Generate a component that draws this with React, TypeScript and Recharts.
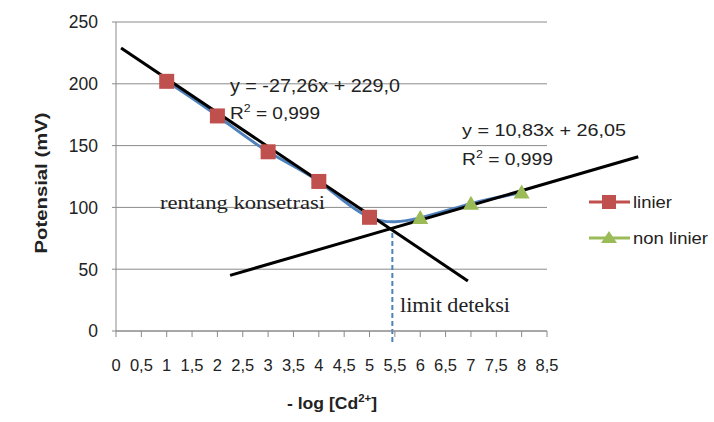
import React from 'react';
import { ComposedChart, Line, XAxis, YAxis, CartesianGrid, ReferenceLine } from 'recharts';

const linierX = [1, 2, 3, 4, 5];
const linierY = [202, 174, 145, 121, 92];
const nonLinierX = [6, 7, 8];
const nonLinierY = [91.5, 103, 112];

const trend1X = [0.1, 6.94];
const trend1Y = [229, 40.5];
const trend2X = [2.25, 10.3];
const trend2Y = [45, 141];

const limitX = 5.45;
const limitY = [-9, 83];

const xTicks = [0, 0.5, 1, 1.5, 2, 2.5, 3, 3.5, 4, 4.5, 5, 5.5, 6, 6.5, 7, 7.5, 8, 8.5];
const xTickLabels = ['0', '0,5', '1', '1,5', '2', '2,5', '3', '3,5', '4', '4,5', '5', '5,5', '6', '6,5', '7', '7,5', '8', '8,5'];
const yTicks = [0, 50, 100, 150, 200, 250];

const RED = '#C0504D';
const GREEN = '#9BBB59';
const BLUE = '#4F81BD';
const FONT = '"Liberation Sans", Arial, sans-serif';
const SERIF = '"Liberation Serif", "Times New Roman", serif';

const data = [
  ...linierX.map((x, i) => ({ x, linier: linierY[i], curve: linierY[i] })),
  ...nonLinierX.map((x, i) => ({ x, nonlinier: nonLinierY[i], curve: nonLinierY[i] })),
];

const Square = (props: any) => {
  const { cx, cy } = props;
  if (cx == null || cy == null || props.value == null) return null;
  return <rect x={cx - 7.5} y={cy - 7.5} width={15} height={15} fill={RED} />;
};

const Triangle = (props: any) => {
  const { cx, cy } = props;
  if (cx == null || cy == null || props.value == null) return null;
  return <polygon points={`${cx},${cy - 8} ${cx + 8},${cy + 6} ${cx - 8},${cy + 6}`} fill={GREEN} />;
};

const XTick = (props: any) => {
  const { x, y, payload } = props;
  const idx = xTicks.indexOf(payload.value);
  return (
    <text x={x} y={y + 32} textAnchor="middle" fontFamily={FONT} fontSize={16.5} fill="#222">
      {xTickLabels[idx]}
    </text>
  );
};

const YTick = (props: any) => {
  const { x, y, payload } = props;
  return (
    <text x={x} y={y} dy="0.36em" textAnchor="end" fontFamily={FONT} fontSize={17.5} fill="#222">
      {payload.value}
    </text>
  );
};

export default function App() {
  return (
    <div style={{ position: 'absolute', left: 0, top: 0, width: 714, height: 422, background: '#fff' }}>
      <ComposedChart width={714} height={422} data={data} margin={{ top: 22, right: 167, bottom: 0, left: 0 }}>
        <CartesianGrid vertical={false} stroke="#8a8a8a" strokeWidth={1} />
        <XAxis
          dataKey="x"
          type="number"
          domain={[0, 8.5]}
          ticks={xTicks}
          interval={0}
          height={91}
          stroke="#8a8a8a"
          tickSize={6}
          tick={<XTick />}
        />
        <YAxis
          type="number"
          domain={[0, 250]}
          ticks={yTicks}
          width={116}
          stroke="#8a8a8a"
          tickSize={4}
          tickMargin={14}
          tick={<YTick />}
        />
        <Line dataKey="curve" type="natural" stroke={BLUE} strokeWidth={3} dot={false} isAnimationActive={false} connectNulls />
        <Line dataKey="linier" stroke="none" dot={<Square />} activeDot={false} isAnimationActive={false} />
        <Line dataKey="nonlinier" stroke="none" dot={<Triangle />} activeDot={false} isAnimationActive={false} />
        <ReferenceLine
          segment={[{ x: limitX, y: limitY[0] }, { x: limitX, y: limitY[1] }]}
          stroke={BLUE}
          strokeWidth={2}
          strokeDasharray="5 3"
          ifOverflow="visible"
        />
        <ReferenceLine
          segment={[{ x: trend1X[0], y: trend1Y[0] }, { x: trend1X[1], y: trend1Y[1] }]}
          stroke="#000"
          strokeWidth={3}
          ifOverflow="visible"
        />
        <ReferenceLine
          segment={[{ x: trend2X[0], y: trend2Y[0] }, { x: trend2X[1], y: trend2Y[1] }]}
          stroke="#000"
          strokeWidth={3}
          ifOverflow="visible"
        />
        <text x={230} y={92} fontFamily={FONT} fontSize={18} fill="#222" textLength={170} lengthAdjust="spacingAndGlyphs">y = -27,26x + 229,0</text>
        <text x={230} y={119} fontFamily={FONT} fontSize={17} fill="#222" textLength={90} lengthAdjust="spacingAndGlyphs">
          R<tspan dy={-7} fontSize={11}>2</tspan><tspan dy={7}> = 0,999</tspan>
        </text>
        <text x={462} y={136} fontFamily={FONT} fontSize={17} fill="#222" textLength={164} lengthAdjust="spacingAndGlyphs">y = 10,83x + 26,05</text>
        <text x={462} y={165} fontFamily={FONT} fontSize={17} fill="#222" textLength={91} lengthAdjust="spacingAndGlyphs">
          R<tspan dy={-7} fontSize={11}>2</tspan><tspan dy={7}> = 0,999</tspan>
        </text>
        <text x={160} y={209} fontFamily={SERIF} fontSize={19} fill="#222" textLength={165} lengthAdjust="spacingAndGlyphs">rentang konsetrasi</text>
        <text x={400} y={312} fontFamily={SERIF} fontSize={20} fill="#222" textLength={110} lengthAdjust="spacingAndGlyphs">limit deteksi</text>
        <g>
          <line x1={589} y1={202} x2={630} y2={202} stroke={RED} strokeWidth={3} />
          <rect x={602} y={195} width={14} height={14} fill={RED} />
          <text x={633} y={208} fontFamily={FONT} fontSize={17} fill="#222" textLength={39} lengthAdjust="spacingAndGlyphs">linier</text>
          <line x1={589} y1={238} x2={630} y2={238} stroke={GREEN} strokeWidth={3} />
          <polygon points="609,231 617,243 601,243" fill={GREEN} />
          <text x={633} y={244} fontFamily={FONT} fontSize={17} fill="#222" textLength={75} lengthAdjust="spacingAndGlyphs">non linier</text>
        </g>
        <text
          x={47}
          y={183}
          transform="rotate(-90, 47, 183)"
          textAnchor="middle"
          fontFamily={FONT}
          fontSize={16}
          fontWeight="bold"
          fill="#222"
          textLength={141}
          lengthAdjust="spacingAndGlyphs"
        >
          Potensial (mV)
        </text>
        <text x={287} y={409} fontFamily={FONT} fontSize={17} fontWeight="bold" fill="#222" textLength={90} lengthAdjust="spacingAndGlyphs">
          - log  [Cd<tspan dy={-7} fontSize={11}>2+</tspan><tspan dy={7}>]</tspan>
        </text>
      </ComposedChart>
    </div>
  );
}
